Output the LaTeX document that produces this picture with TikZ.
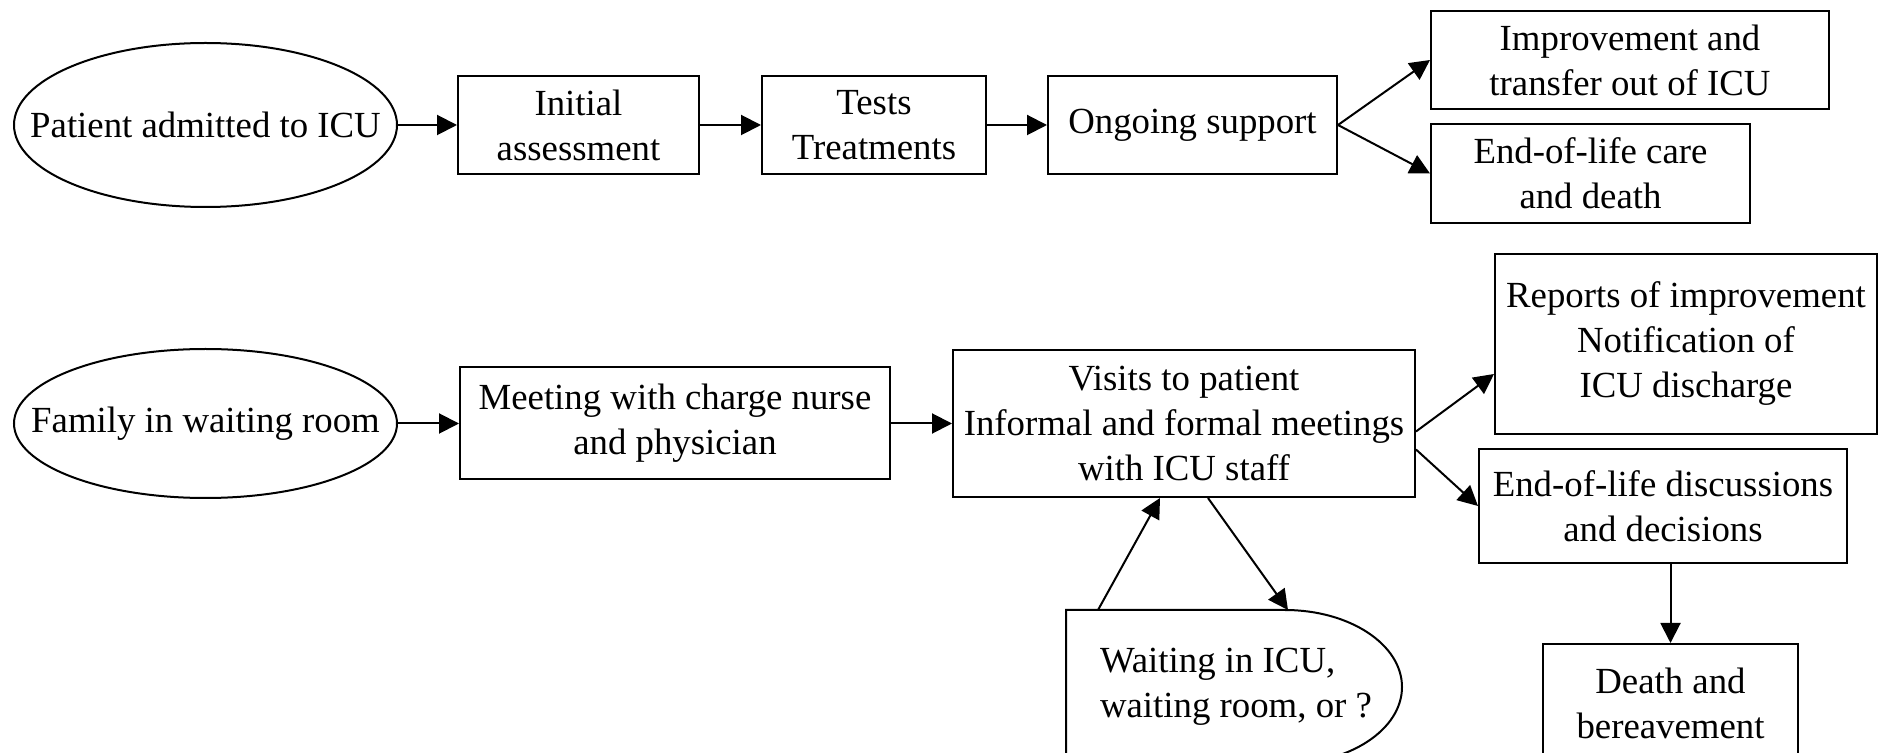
\documentclass[tikz,border=0pt]{standalone}
\usepackage{fontspec}
\setmainfont{Liberation Serif}
\usepackage{tikz}
\usetikzlibrary{arrows.meta,positioning,shapes.geometric}

\begin{document}
\begin{tikzpicture}
    [x=0.5pt,y=-0.5pt,>={Triangle[length=10pt,width=10pt]},line width=1pt,on grid,
     font=\fontsize{18.4pt}{22.5pt}\selectfont,
     box/.style={draw,rectangle,inner sep=0pt,align=center},
     oval/.style={draw,ellipse,inner sep=0pt}]

    \useasboundingbox (0,0) rectangle (1881,753);

    % patient
    \node[oval,minimum width=191.5pt,minimum height=82pt] (patient) at (205.5,125) {\makebox[0pt]{Patient admitted to ICU}};
    \node[box,minimum width=120.5pt,minimum height=49pt] (initial) [right=186.5pt of patient] {Initial\\assessment};
    \node[box,minimum width=112pt,minimum height=49pt] (tests) [right=147.75pt of initial] {Tests\\Treatments};
    \node[box,minimum width=144.5pt,minimum height=49pt] (ongoing) [right=159.25pt of tests] {Ongoing support};
    \node[box,minimum width=199pt,minimum height=49pt] (improve) [above right=32.5pt and 218.75pt of ongoing] {Improvement and\\transfer out of ICU};
    \node[box,minimum width=159.5pt,minimum height=49.5pt] (eolcare) [below right=24.25pt and 199pt of ongoing] {End-of-life care\\and death};

    % family
    \node[oval,minimum width=191.5pt,minimum height=74.5pt] (family) [below=149.25pt of patient] {\makebox[0pt]{Family in waiting room}};
    \node[box,minimum width=215pt,minimum height=56pt] (meeting) [right=234.75pt of family] {Meeting with charge nurse\\and physician};
    \node[box,minimum width=231pt,minimum height=73.5pt] (visits) [right=254.5pt of meeting] {Visits to patient\\Informal and formal meetings\\with ICU staff};
    \node[box,minimum width=191pt,minimum height=90pt] (reports) [above right=39.75pt and 251pt of visits] {Reports of improvement\\Notification of\\ICU discharge};
    \node[box,minimum width=184pt,minimum height=57pt] (eoldisc) [below right=41.25pt and 239.5pt of visits] {End-of-life discussions\\and decisions};
    \node[box,minimum width=127.5pt,minimum height=59pt] (death) [below right=98.5pt and 3.75pt of eoldisc] {Death and\\bereavement};
    \node[inner sep=0pt,align=left] (wait) [below right=131.75pt and 26pt of visits] {Waiting in ICU,\\waiting room, or ?};

    \draw ([shift={(-85pt,38.5pt)}]wait.center) -- ([shift={(24.5pt,38.5pt)}]wait.center)
        arc[start angle=90,end angle=-90,x radius=58.5pt,y radius=38.5pt]
        -- ([shift={(-85pt,-38.5pt)}]wait.center) -- cycle;
    \coordinate (waitA) at ([shift={(-69pt,38.5pt)}]wait.center);
    \coordinate (waitB) at ([shift={(26pt,38.5pt)}]wait.center);

    \path[->]
    (patient) edge (initial)
    (initial) edge (tests)
    (tests) edge (ongoing)
    (ongoing.east) edge (improve.west)
    (ongoing.east) edge (eolcare.west)
    (family) edge (meeting)
    (meeting) edge (visits)
    ([yshift=-4pt]visits.east) edge ([yshift=-15pt]reports.west)
    ([yshift=-13pt]visits.east) edge (eoldisc.west)
    (death.north |- eoldisc.south) edge (death.north)
    (waitA) edge ([xshift=-12pt]visits.south)
    ([xshift=12pt]visits.south) edge (waitB)
    ;

\end{tikzpicture}
\end{document}
